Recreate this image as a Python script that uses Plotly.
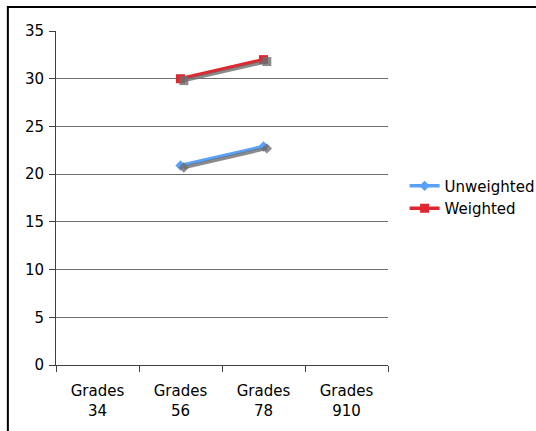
import plotly.graph_objects as go

# Chart data
categories = ['Grades<br>34', 'Grades<br>56', 'Grades<br>78', 'Grades<br>910']
unweighted = [None, 20.9, 22.9, None]
weighted = [None, 30.0, 32.0, None]

FONT = dict(family='DejaVu Sans, Verdana, sans-serif', size=15, color='black')
BLUE = '#5aa0f7'
RED = '#e0262f'
SHADOW = 'rgba(110,110,110,0.8)'

fig = go.Figure()

# Drop shadows drawn on slightly shifted overlay axes
for vals, sym, size in [(unweighted, 'diamond', 8), (weighted, 'square', 9)]:
    fig.add_trace(go.Scatter(
        x=categories, y=vals, xaxis='x2', yaxis='y2',
        mode='lines+markers', showlegend=False, hoverinfo='skip',
        line=dict(color=SHADOW, width=3.5),
        marker=dict(symbol=sym, size=size, color=SHADOW)
    ))

fig.add_trace(go.Scatter(
    x=categories, y=unweighted, name='Unweighted',
    mode='lines+markers',
    line=dict(color=BLUE, width=3.5),
    marker=dict(symbol='diamond', size=8, color=BLUE)
))
fig.add_trace(go.Scatter(
    x=categories, y=weighted, name='Weighted',
    mode='lines+markers',
    line=dict(color=RED, width=3.5),
    marker=dict(symbol='square', size=9, color=RED)
))

fig.update_layout(
    width=536, height=431,
    margin=dict(l=56, r=148, t=31, b=66, autoexpand=False),
    paper_bgcolor='white', plot_bgcolor='white',
    font=FONT,
    showlegend=True,
    legend=dict(x=1.05, y=0.585, xanchor='left', yanchor='top',
                font=FONT, bgcolor='rgba(0,0,0,0)',
                tracegroupgap=2, itemwidth=30),
    xaxis=dict(
        type='category', categoryorder='array', categoryarray=categories,
        range=[-0.5, 3.5], showgrid=False, zeroline=False, automargin=False,
        showline=True, linecolor='#404040', linewidth=1,
        ticks='outside', tickson='boundaries', ticklen=6,
        tickcolor='#404040', tickfont=FONT, ticklabelstandoff=12
    ),
    yaxis=dict(
        range=[0, 35], dtick=5, showgrid=True, gridcolor='#6e6e6e',
        gridwidth=1, zeroline=False, showline=True, linecolor='#404040',
        linewidth=1, ticks='outside', ticklen=6, tickcolor='#404040',
        tickfont=FONT, automargin=False, ticklabelstandoff=2
    ),
    xaxis2=dict(
        type='category', categoryorder='array', categoryarray=categories,
        range=[-0.5 - 0.04, 3.5 - 0.04], overlaying='x', visible=False
    ),
    yaxis2=dict(range=[0.2, 35.2], overlaying='y', visible=False),
)

# Outer chart frame (right and bottom edges fall outside the picture)
fig.add_shape(type='rect', xref='paper', yref='paper',
              x0=-0.145, x1=1.47, y0=-0.23, y1=1.072,
              line=dict(color='black', width=2), fillcolor='rgba(0,0,0,0)',
              layer='above')

# drop the page's default body margin so the figure sits at the window corner
fig.write_html('out.html', config={'displayModeBar': False},
               post_script="document.body.style.margin='0';")
